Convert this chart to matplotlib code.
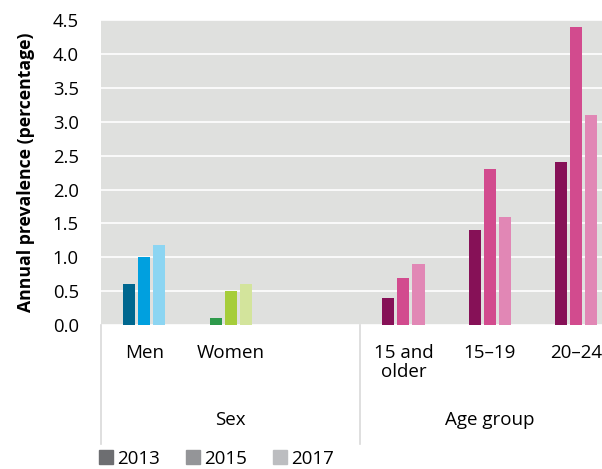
import numpy as np
import matplotlib.pyplot as plt
from matplotlib.patches import Patch
from matplotlib.transforms import blended_transform_factory

plt.rcParams['font.family'] = ['Open Sans', 'DejaVu Sans']

years = ['2013', '2015', '2017']
categories = ['Men', 'Women', '', '15 and\nolder', '15–19', '20–24']
groups = ['Sex', 'Age group']

# annual prevalence per category, one list per year
vals_2013 = [0.6, 0.1, None, 0.4, 1.4, 2.4]
vals_2015 = [1.0, 0.5, None, 0.7, 2.3, 4.4]
vals_2017 = [1.18, 0.6, None, 0.9, 1.6, 3.1]

blue_cols = ['#00678f', '#00a0df', '#8cd5f2']
green_cols = ['#2e9a4b', '#a6cd3b', '#d3e49c']
pink_cols = ['#861157', '#d24b8e', '#e187b5']
cat_cols = [blue_cols, green_cols, None, pink_cols, pink_cols, pink_cols]
legend_cols = ['#6d6e71', '#949598', '#bcbdc0']

fig = plt.figure(figsize=(6.02, 4.69), dpi=100)
ax = fig.add_axes([0.168, 0.307, 0.832, 0.650])
ax.set_facecolor('#dfe0de')

width = 0.14
step = 0.175
for j, series in enumerate([vals_2013, vals_2015, vals_2017]):
    for i, v in enumerate(series):
        if v is None:
            continue
        ax.bar(i + (j - 1) * step, v, width, color=cat_cols[i][j], zorder=3)

ax.set_ylim(0, 4.5)
ax.set_xlim(-0.5, 5.3)
ax.set_yticks(np.arange(0, 4.51, 0.5))
ax.set_yticklabels(['%.1f' % t for t in np.arange(0, 4.51, 0.5)], fontsize=13.3)
ax.yaxis.grid(True, color='white', linewidth=1.2, zorder=1)
ax.tick_params(axis='y', length=0, pad=16)
ax.tick_params(axis='x', length=0)
ax.set_xticks([])
for s in ax.spines.values():
    s.set_visible(False)
ax.set_ylabel('Annual prevalence (percentage)', fontsize=12.7, fontweight='bold', labelpad=13)

trans = blended_transform_factory(ax.transData, ax.transAxes)
for i, c in enumerate(categories):
    if c:
        ax.text(i, -0.062, c, transform=trans, ha='center', va='top', fontsize=13.5,
                linespacing=1.1)
ax.text(1.0, -0.31, groups[0], transform=trans, ha='center', va='center', fontsize=13.5)
ax.text(4.0, -0.31, groups[1], transform=trans, ha='center', va='center', fontsize=13.5)
for x in [-0.5, 2.5]:
    ax.plot([x, x], [0, -0.39], transform=trans, color='#d9d9d9', lw=1.2, clip_on=False)

handles = [Patch(color=c) for c in legend_cols]
fig.legend(handles, years, loc='lower left', bbox_to_anchor=(0.137, -0.033), ncol=3,
           frameon=False, fontsize=13.5, handlelength=0.75, handleheight=0.75,
           handletextpad=0.2, columnspacing=1.4)

fig.savefig('out.png', dpi=100)
